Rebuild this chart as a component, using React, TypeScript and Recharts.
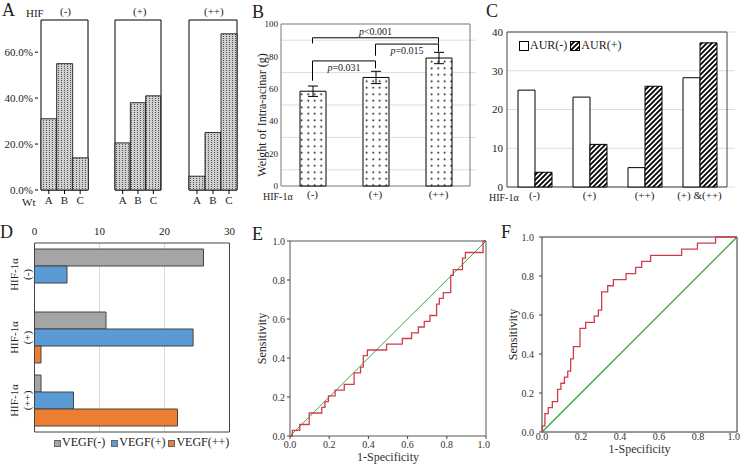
import React from 'react';
import {
  BarChart, Bar, XAxis, YAxis, CartesianGrid, ReferenceArea, ReferenceLine, ErrorBar,
  LineChart, Line,
} from 'recharts';

const FONT = '"Liberation Serif", "DejaVu Serif", serif';

// A - grade distribution per HIF level
const gradeCats = ['A', 'B', 'C'];
const gradeNeg = [31, 55, 14];
const gradePos = [20.5, 38, 41];
const gradePosPos = [6, 25, 68];
const gradeTicks = [0, 20, 40, 60];

// B - weight of intra-acinar
const hifCats = ['(-)', '(+)', '(++)'];
const weightMean = [58.5, 67, 79];
const weightErr = [3.2, 3.8, 3.5];
const weightTicks = [0, 20, 40, 60, 80, 100];
const weightGrid = [10, 20, 30, 40, 50, 60, 70, 80, 90];
const bracketFrom = ['(-)', '(+)', '(-)'];
const bracketTo = ['(+)', '(++)', '(++)'];
const bracketTop = [77.2, 87.6, 91.5];
const bracketLeftEnd = [65, 80.4, 88];
const bracketRightEnd = [72.6, 82.9, 88];
const bracketP = ['=0.031', '=0.015', '<0.001'];

// C - AUR
const aurCats = ['(-)', '(+)', '(++)', '(+) &(++)'];
const aurNeg = [25, 23.2, 5, 28.2];
const aurPos = [3.8, 11, 26, 37.2];
const aurTicks = [0, 10, 20, 30, 40];

// D - VEGF
const vegfCats = ['(-)', '(+)', '(++)'];
const vegfNeg = [26, 11, 1];
const vegfPos = [5, 24.4, 6];
const vegfPosPos = [0, 1, 22];
const vegfTicks = [0, 10, 20, 30];

// E / F - ROC curves
const rocEx = [0, 0.012, 0.05, 0.098, 0.162, 0.178, 0.196, 0.23, 0.277, 0.327, 0.36, 0.374, 0.395, 0.493, 0.573, 0.62, 0.655, 0.685, 0.714, 0.748, 0.762, 0.782, 0.82, 0.833, 0.88, 0.895, 0.985, 1];
const rocEy = [0, 0.029, 0.059, 0.118, 0.147, 0.176, 0.206, 0.235, 0.265, 0.324, 0.353, 0.412, 0.441, 0.471, 0.5, 0.529, 0.559, 0.588, 0.618, 0.676, 0.706, 0.735, 0.824, 0.853, 0.912, 0.941, 1, 1];
const rocFx = [0, 0.002, 0.015, 0.032, 0.053, 0.08, 0.097, 0.115, 0.132, 0.147, 0.161, 0.195, 0.224, 0.268, 0.289, 0.306, 0.337, 0.366, 0.431, 0.48, 0.511, 0.557, 0.716, 0.797, 0.89, 1];
const rocFy = [0, 0.031, 0.094, 0.125, 0.156, 0.219, 0.25, 0.281, 0.3125, 0.375, 0.4375, 0.531, 0.5625, 0.594, 0.625, 0.719, 0.75, 0.781, 0.8125, 0.844, 0.875, 0.906, 0.9375, 0.969, 1, 1];
const rocTicks = [0, 0.2, 0.4, 0.6, 0.8, 1];

const gradeData = (vals: number[]) => gradeCats.map((name, i) => ({ name, v: vals[i] }));
const weightData = hifCats.map((name, i) => ({ name, v: weightMean[i], e: weightErr[i] }));
const aurData = aurCats.map((name, i) => ({ name, neg: aurNeg[i], pos: aurPos[i] }));
const vegfData = vegfCats.map((name, i) => ({ name, a: vegfNeg[i], b: vegfPos[i], c: vegfPosPos[i] }));
const rocE = rocEx.map((x, i) => ({ x, y: rocEy[i] }));
const rocF = rocFx.map((x, i) => ({ x, y: rocFy[i] }));

const tickStyle = { fontSize: 11, fill: '#222' };
const rocTick = { fontSize: 10, fill: '#333' };

const Txt = ({ x, y, size = 11, children, style }: any) => (
  <div style={{ position: 'absolute', left: x, top: y, fontSize: size, lineHeight: 1, whiteSpace: 'nowrap', color: '#222', ...style }}>
    {children}
  </div>
);

const Panel = ({ x, y, children }: any) => (
  <div style={{ position: 'absolute', left: x, top: y }}>{children}</div>
);

function GradeChart({ vals, showY, width }: { vals: number[]; showY: boolean; width: number }) {
  return (
    <BarChart width={width} height={215} data={gradeData(vals)} margin={{ top: 20, right: 4, left: 0, bottom: 0 }} barCategoryGap={0} barGap={0}>
      <XAxis dataKey="name" height={25} padding={{ left: 3, right: 3 }} axisLine={false} tickSize={4} tickMargin={2} tickLine={{ stroke: '#000' }} tick={tickStyle} />
      <YAxis hide={!showY} width={38} domain={[0, 74]} ticks={gradeTicks} tickFormatter={(v: number) => v.toFixed(1) + '%'} axisLine={false} tickSize={3} tickMargin={2} tickLine={{ stroke: '#000' }} tick={tickStyle} />
      <ReferenceArea y1={0} y2={74} fill="none" stroke="#000" strokeWidth={1} fillOpacity={0} />
      <Bar dataKey="v" fill="url(#patA)" stroke="#000" strokeWidth={0.8} isAnimationActive={false} />
    </BarChart>
  );
}

const PLabel = (props: any) => {
  const { viewBox, text, above } = props;
  if (!viewBox) return null;
  const x1 = viewBox.x1 ?? viewBox.x;
  const x2 = viewBox.x2 ?? viewBox.x + (viewBox.width || 0);
  const y0 = viewBox.y1 ?? viewBox.y;
  const cx = (x1 + x2) / 2;
  return (
    <text x={cx} y={above ? y0 - 3 : y0 + 10} textAnchor="middle" fontSize={10} fill="#222">
      <tspan fontStyle="italic">p</tspan>{text}
    </text>
  );
};

const DTick = (props: any) => {
  const { y, payload } = props;
  return (
    <g>
      <text transform={`translate(18, ${y}) rotate(-90)`} textAnchor="middle" fontSize={11} fill="#222">HIF-1α</text>
      <text transform={`translate(31, ${y}) rotate(-90)`} textAnchor="middle" fontSize={11} fill="#222">{payload.value}</text>
    </g>
  );
};

const Swatch = ({ fill, size = 10, stroke = '#000' }: any) => (
  <svg width={size} height={size} style={{ display: 'inline-block', verticalAlign: 'middle', marginRight: 1 }}>
    <rect x={0.5} y={0.5} width={size - 1} height={size - 1} fill={fill} stroke={stroke} />
  </svg>
);

export default function App() {
  return (
    <div style={{ position: 'absolute', left: 0, top: 0, width: 744, height: 464, background: '#fff', overflow: 'hidden', fontFamily: FONT }}>
      <svg width={0} height={0} style={{ position: 'absolute' }}>
        <defs>
          <pattern id="patA" width={3} height={2} patternUnits="userSpaceOnUse">
            <rect width={3} height={2} fill="#cfcfcf" />
            <rect x={1} y={0} width={1} height={1} fill="#555" />
          </pattern>
          <pattern id="patB" width={6.5} height={6.5} patternUnits="userSpaceOnUse">
            <rect width={6.5} height={6.5} fill="#fff" />
            <circle cx={3.2} cy={3.2} r={0.9} fill="#000" />
          </pattern>
          <pattern id="patC" width={5} height={5} patternUnits="userSpaceOnUse">
            <rect width={5} height={5} fill="#fff" />
            <path d="M-1,1 l2,-2 M0,5 l5,-5 M4,6 l2,-2" stroke="#000" strokeWidth={1.8} />
          </pattern>
        </defs>
      </svg>

      {/* A */}
      <Txt x={2} y={1} size={18}>A</Txt>
      <Txt x={26} y={8} size={11}>HIF</Txt>
      <Txt x={60} y={6} size={11}>(-)</Txt>
      <Txt x={133} y={6} size={11}>(+)</Txt>
      <Txt x={204} y={6} size={11}>(++)</Txt>
      <Txt x={22} y={197} size={11}>Wt</Txt>
      <Panel x={0} y={0}><GradeChart vals={gradeNeg} showY width={95} /></Panel>
      <Panel x={112} y={0}><GradeChart vals={gradePos} showY={false} width={56} /></Panel>
      <Panel x={186} y={0}><GradeChart vals={gradePosPos} showY={false} width={58} /></Panel>

      {/* B */}
      <Txt x={252} y={3} size={18}>B</Txt>
      <Txt x={262} y={115} size={12} style={{ transform: 'translate(-50%, -50%) rotate(-90deg)' }}>Weight of Intra-acinar (g)</Txt>
      <Txt x={263} y={192} size={10}>HIF-1α</Txt>
      <Panel x={240} y={0}>
        <BarChart width={240} height={215} data={weightData} margin={{ top: 24, right: 4, left: 0, bottom: 0 }}>
          <CartesianGrid vertical={false} horizontalValues={weightGrid} stroke="#ddd" />
          <XAxis dataKey="name" height={29} padding={{ left: 0, right: 6 }} axisLine={false} tickLine={false} tickSize={0} tickMargin={4} tick={tickStyle} />
          <YAxis width={41} domain={[0, 100]} ticks={weightTicks} axisLine={false} tickLine={false} tickSize={0} tickMargin={3} tick={{ fontSize: 9, fill: '#222' }} />
          <ReferenceArea y1={0} y2={100} fill="none" fillOpacity={0} stroke="#777" />
          <Bar dataKey="v" fill="url(#patB)" stroke="#000" barSize={26} isAnimationActive={false}>
            <ErrorBar dataKey="e" width={5} stroke="#000" strokeWidth={1} />
          </Bar>
          {bracketP.map((p, i) => (
            <React.Fragment key={p}>
              <ReferenceLine segment={[{ x: bracketFrom[i], y: bracketTop[i] }, { x: bracketTo[i], y: bracketTop[i] }]} stroke="#000" label={<PLabel text={p} above={i === 2} />} />
              <ReferenceLine segment={[{ x: bracketFrom[i], y: bracketTop[i] }, { x: bracketFrom[i], y: bracketLeftEnd[i] }]} stroke="#000" />
              <ReferenceLine segment={[{ x: bracketTo[i], y: bracketTop[i] }, { x: bracketTo[i], y: bracketRightEnd[i] }]} stroke="#000" />
            </React.Fragment>
          ))}
        </BarChart>
      </Panel>

      {/* C */}
      <Txt x={486} y={2} size={18}>C</Txt>
      <Txt x={489} y={193} size={10}>HIF-1α</Txt>
      <Panel x={490} y={0}>
        <BarChart width={250} height={215} data={aurData} margin={{ top: 32, right: 5, left: 0, bottom: 0 }} barGap={0}>
          <CartesianGrid vertical={false} stroke="#ddd" />
          <XAxis dataKey="name" height={28} padding={{ left: 0, right: 8 }} axisLine={false} tickLine={false} tickSize={0} tickMargin={4} tick={tickStyle} />
          <YAxis width={17} domain={[0, 40]} ticks={aurTicks} axisLine={false} tickLine={false} tickSize={0} tickMargin={4} tick={tickStyle} />
          <ReferenceArea y1={0} y2={40} fill="none" fillOpacity={0} stroke="#444" />
          <Bar dataKey="neg" fill="#fff" stroke="#000" barSize={17} isAnimationActive={false} />
          <Bar dataKey="pos" fill="url(#patC)" stroke="#000" barSize={17} isAnimationActive={false} />
        </BarChart>
      </Panel>
      <Txt x={519} y={39} size={12}>
        <Swatch fill="#fff" />AUR(-) <Swatch fill="url(#patC)" />AUR(+)
      </Txt>

      {/* D */}
      <Txt x={0} y={223} size={18}>D</Txt>
      <Panel x={0} y={220}>
        <BarChart layout="vertical" width={235} height={215} data={vegfData} margin={{ top: 0, right: 5.5, left: 0, bottom: 3 }} barGap={0}>
          <CartesianGrid horizontal={false} stroke="#d9d9d9" />
          <XAxis type="number" orientation="top" height={23} domain={[0, 30]} ticks={vegfTicks} axisLine={false} tickLine={false} tickSize={0} tickMargin={8} tick={tickStyle} />
          <YAxis type="category" dataKey="name" width={34.5} axisLine={false} tickLine={false} tick={<DTick />} />
          <ReferenceArea x1={0} x2={30} fill="none" fillOpacity={0} stroke="#444" />
          <Bar dataKey="a" fill="#a5a5a5" stroke="#444" barSize={17} isAnimationActive={false} />
          <Bar dataKey="b" fill="#5b9bd5" stroke="#444" barSize={17} isAnimationActive={false} />
          <Bar dataKey="c" fill="#ed7d31" stroke="#444" barSize={17} isAnimationActive={false} />
        </BarChart>
      </Panel>
      <Txt x={54} y={436} size={12}>
        <Swatch fill="#a5a5a5" size={7} stroke="#666" />VEGF(-)&nbsp;&nbsp;
        <Swatch fill="#5b9bd5" size={7} stroke="#666" />VEGF(+)&nbsp;
        <Swatch fill="#ed7d31" size={7} stroke="#666" />VEGF(++)
      </Txt>

      {/* E */}
      <Txt x={252} y={225} size={18}>E</Txt>
      <Panel x={240} y={220}>
        <LineChart width={250} height={244} data={rocE} margin={{ top: 21, right: 4, left: 0, bottom: 0 }}>
          <XAxis dataKey="x" type="number" domain={[0, 1]} ticks={rocTicks} tickFormatter={(v: number) => v.toFixed(1)} height={28} axisLine={false} tickSize={3} tickMargin={2} tickLine={{ stroke: '#444' }} tick={rocTick}
            label={{ value: '1-Specificity', position: 'insideBottom', offset: 3, fontSize: 12, fill: '#333' }} />
          <YAxis type="number" domain={[0, 1]} ticks={rocTicks} tickFormatter={(v: number) => v.toFixed(1)} width={50} axisLine={false} tickSize={3} tickMargin={2} tickLine={{ stroke: '#444' }} tick={rocTick}
            label={{ value: 'Sensitivity', angle: -90, position: 'insideLeft', offset: 22, fontSize: 12, fill: '#222', style: { textAnchor: 'middle' } }} />
          <ReferenceArea x1={0} x2={1} y1={0} y2={1} fill="none" fillOpacity={0} stroke="#555" />
          <ReferenceLine segment={[{ x: 0, y: 0 }, { x: 1, y: 1 }]} stroke="#3aa83a" strokeWidth={1} />
          <Line type="stepAfter" dataKey="y" stroke="#cf3d4c" strokeWidth={1.3} dot={false} isAnimationActive={false} />
        </LineChart>
      </Panel>

      {/* F */}
      <Txt x={501} y={223} size={18}>F</Txt>
      <Panel x={490} y={220}>
        <LineChart width={250} height={244} data={rocF} margin={{ top: 17, right: 3, left: 0, bottom: 0 }}>
          <XAxis dataKey="x" type="number" domain={[0, 1]} ticks={rocTicks} tickFormatter={(v: number) => v.toFixed(1)} height={32} axisLine={false} tickSize={0} tickMargin={1} tick={rocTick}
            label={{ value: '1-Specificity', position: 'insideBottom', offset: 11, fontSize: 12, fill: '#333' }} />
          <YAxis type="number" domain={[0, 1]} ticks={rocTicks} tickFormatter={(v: number) => v.toFixed(1)} width={52} axisLine={false} tickSize={3} tickMargin={5} tickLine={{ stroke: '#444' }} tick={rocTick}
            label={{ value: 'Sensitivity', angle: -90, position: 'insideLeft', offset: 23, fontSize: 12, fill: '#222', style: { textAnchor: 'middle' } }} />
          <ReferenceArea x1={0} x2={1} y1={0} y2={1} fill="none" fillOpacity={0} stroke="#333" />
          <ReferenceLine segment={[{ x: 0, y: 0 }, { x: 1, y: 1 }]} stroke="#22a022" strokeWidth={1.1} />
          <Line type="stepAfter" dataKey="y" stroke="#cf3d4c" strokeWidth={1.3} dot={false} isAnimationActive={false} />
        </LineChart>
      </Panel>
    </div>
  );
}
